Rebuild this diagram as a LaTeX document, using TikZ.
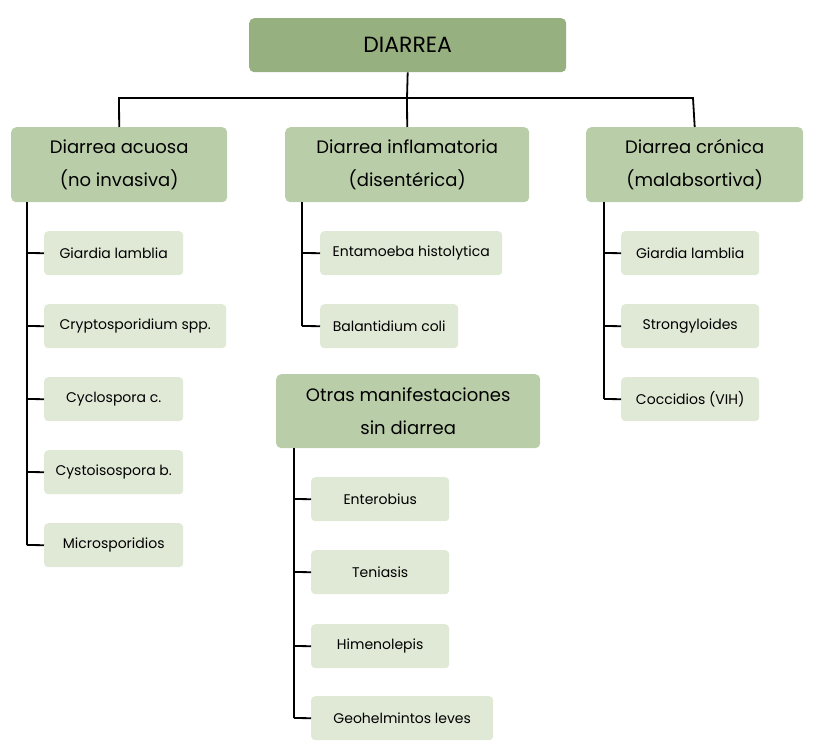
\documentclass[tikz,border=0pt]{standalone}
\usepackage{fontspec}
\setmainfont{Poppins}
\begin{document}
\begin{tikzpicture}[x=1pt,y=-1pt,
 top/.style={draw=none,fill={rgb,255:red,151;green,176;blue,127},rounded corners=5pt},
 mid/.style={fill={rgb,255:red,186;green,205;blue,169},rounded corners=5pt},
 leaf/.style={fill={rgb,255:red,224;green,232;blue,214},rounded corners=4pt},
 ln/.style={line width=1.8pt,black}]
\useasboundingbox (0,0) rectangle (822,751);
\newcommand\bx[6]{\node[#1,minimum width={(#4)-(#3)},minimum height={(#6)-(#5)},inner sep=0pt,anchor=north west] (#2) at ({#3},{#5}) {};}
\bx{top}{d}{249}{566}{18}{72}\node at (d) {\fontsize{22}{26}\selectfont DIARREA};
\bx{mid}{a}{11}{227}{127}{202}\node[align=center,font=\fontsize{18}{33}\selectfont] at (a) {Diarrea acuosa\\(no invasiva)};
\bx{mid}{b}{285}{529}{127}{202}\node[align=center,font=\fontsize{18}{33}\selectfont] at (b) {Diarrea inflamatoria\\(disentérica)};
\bx{mid}{c}{586}{803}{127}{202}\node[align=center,font=\fontsize{18}{33}\selectfont] at (c) {Diarrea crónica\\(malabsortiva)};
\bx{mid}{o}{276}{540}{374}{448}\node[align=center,font=\fontsize{18}{33}\selectfont] at (o) {Otras manifestaciones\\sin diarrea};
\coordinate (j) at (407,98);
\draw[ln] (d.south) -- (j);
\draw[ln] (a.north) -- (119,98) -- (693,98) -- (c.north);
\draw[ln] (j) -- (b.north);
\newcommand\lf[6]{\bx{leaf}{#1}{#2}{#3}{#4-22}{#4+22}\node[font=\fontsize{14}{16}\selectfont] at (#1) {#5};
 \draw[ln] (#6,#4) -- (#1.west);}
\lf{a1}{44}{183}{253}{Giardia lamblia}{27}
\lf{a2}{44}{226}{326}{Cryptosporidium spp.}{27}
\lf{a3}{44}{183}{399}{Cyclospora c.}{27}
\lf{a4}{44}{183}{472}{Cystoisospora b.}{27}
\lf{a5}{44}{183}{545}{Microsporidios}{27}
\draw[ln] (27,202) -- (27,545);
\lf{b1}{320}{502}{253}{Entamoeba histolytica}{302}
\lf{b2}{320}{458}{326}{Balantidium coli}{302}
\draw[ln] (302,202) -- (302,326);
\lf{c1}{621}{759}{253}{Giardia lamblia}{604}
\lf{c2}{621}{759}{326}{Strongyloides}{604}
\lf{c3}{621}{759}{399}{Coccidios (VIH)}{604}
\draw[ln] (604,202) -- (604,399);
\lf{o1}{311}{449}{499}{Enterobius}{294}
\lf{o2}{311}{449}{572}{Teniasis}{294}
\lf{o3}{311}{449}{646}{Himenolepis}{294}
\lf{o4}{311}{493}{718}{Geohelmintos leves}{294}
\draw[ln] (294,448) -- (294,718);
\end{tikzpicture}
\end{document}
